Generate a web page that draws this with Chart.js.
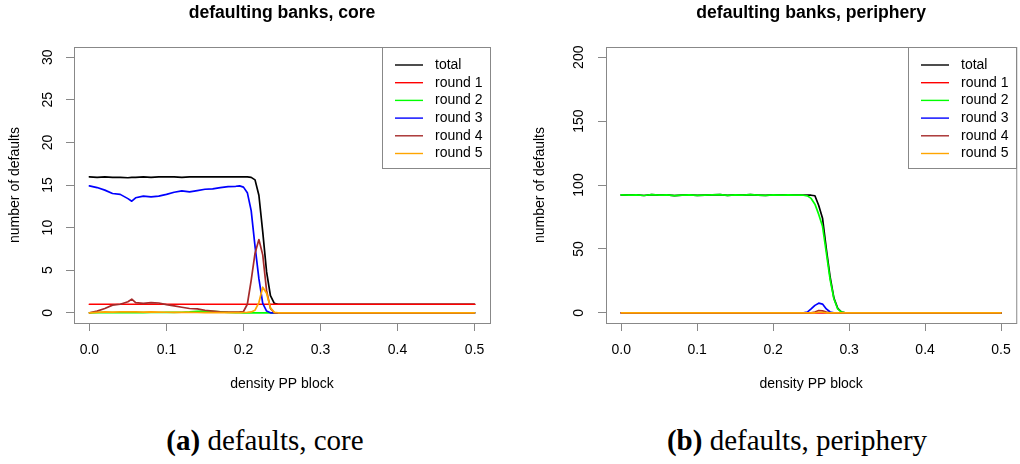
<!DOCTYPE html>
<html>
<head>
<meta charset="utf-8">
<script src="https://cdn.jsdelivr.net/npm/chart.js@4.4.1/dist/chart.umd.min.js"></script>
<style>
  html, body { margin: 0; padding: 0; background: #fff; width: 1020px; height: 464px; overflow: hidden; position: relative; }
  canvas { position: absolute; top: 0; }
  #c-core { left: 0; }
  #c-peri { left: 510px; }
  .cap { position: absolute; top: 424px; width: 500px; text-align: center; color: #000;
         font-family: 'Liberation Serif', 'Times New Roman', serif; font-size: 29px; line-height: 32px; }
</style>
</head>
<body>
<canvas id="c-core" width="510" height="400"></canvas>
<canvas id="c-peri" width="512" height="400"></canvas>
<div class="cap" style="left:15px"><b>(a)</b> defaults, core</div>
<div class="cap" style="left:547px"><b>(b)</b> defaults, periphery</div>

<script>
// ---- data ----
const seriesNames  = ['total', 'round 1', 'round 2', 'round 3', 'round 4', 'round 5']
const seriesColors = ['#000000', '#ff0000', '#00ff00', '#0000ff', '#a52a2a', '#ffa500']

const xTicks     = [0, 0.1, 0.2, 0.3, 0.4, 0.5]
const coreYTicks = [0, 5, 10, 15, 20, 25, 30]
const periYTicks = [0, 50, 100, 150, 200]

// core panel
const coreX = [0, 0.01, 0.02, 0.03, 0.04, 0.05, 0.055, 0.06, 0.07, 0.08, 0.09, 0.1, 0.11, 0.12,
  0.13, 0.14, 0.15, 0.16, 0.17, 0.18, 0.19, 0.195, 0.2, 0.205, 0.21, 0.215, 0.22, 0.225, 0.23,
  0.235, 0.24, 0.245, 0.25, 0.3, 0.4, 0.5]
const coreTotal = [15.95, 15.9, 15.95, 15.9, 15.9, 15.85, 15.9, 15.9, 15.95, 15.9, 15.95, 15.95,
  15.95, 15.9, 15.95, 15.95, 15.95, 15.95, 15.95, 15.95, 15.95, 15.95, 15.95, 15.95, 15.9, 15.6,
  13.8, 9.5, 4.8, 2.0, 1.1, 1.0, 1, 1, 1, 1]
const coreRound1 = [1, 1, 1, 1, 1, 1, 1, 1, 1, 1, 1, 1, 1, 1, 1, 1, 1, 1, 1, 1, 1, 1, 1, 1, 1, 1,
  1, 1, 1, 1, 1, 1, 1, 1, 1, 1]
const coreRound2 = [0, 0.02, 0.03, 0.02, 0.03, 0.02, 0.02, 0.03, 0.02, 0.03, 0.03, 0.04, 0.05,
  0.06, 0.1, 0.18, 0.2, 0.16, 0.1, 0.04, 0.02, 0.01, 0, 0, 0, 0, 0, 0, 0, 0, 0, 0, 0, 0, 0, 0]
const coreRound3 = [14.9, 14.7, 14.4, 14.0, 13.9, 13.4, 13.1, 13.5, 13.7, 13.6, 13.7, 13.9, 14.15,
  14.3, 14.2, 14.35, 14.5, 14.55, 14.7, 14.8, 14.85, 14.9, 14.75, 14.1, 12.0, 7.8, 4.0, 1.1, 0.2,
  0, 0, 0, 0, 0, 0, 0]
const coreRound4 = [0, 0.2, 0.5, 0.9, 1.0, 1.3, 1.6, 1.2, 1.1, 1.2, 1.15, 0.95, 0.8, 0.65, 0.5,
  0.45, 0.3, 0.2, 0.12, 0.08, 0.08, 0.1, 0.15, 1.0, 3.8, 7.0, 8.6, 6.8, 2.6, 0.5, 0, 0, 0, 0, 0, 0]
const coreRound5 = [0, 0.05, 0.1, 0.08, 0.1, 0.12, 0.1, 0.1, 0.08, 0.1, 0.08, 0.06, 0.05, 0.04,
  0.05, 0.03, 0.02, 0.02, 0.01, 0.01, 0.01, 0.02, 0.03, 0.05, 0.1, 0.3, 1.2, 3.0, 2.3, 0.6, 0.05,
  0, 0, 0, 0, 0]

// periphery panel
const periX = [0, 0.01, 0.02, 0.03, 0.04, 0.05, 0.06, 0.07, 0.08, 0.09, 0.1, 0.11, 0.12, 0.13,
  0.14, 0.15, 0.16, 0.17, 0.18, 0.19, 0.2, 0.21, 0.22, 0.23, 0.24, 0.245, 0.25, 0.255, 0.26,
  0.265, 0.27, 0.275, 0.28, 0.285, 0.29, 0.295, 0.3, 0.4, 0.5]
const periTotal = [92.2, 92.0, 92.3, 91.8, 92.4, 92.0, 92.2, 91.7, 92.1, 92.3, 91.9, 92.0, 92.2,
  92.4, 91.9, 92.3, 92.0, 92.4, 92.1, 91.9, 92.3, 92.0, 92.2, 92.1, 92.0, 92.0, 92.0, 91.6, 84,
  74, 50, 28, 11.5, 3.5, 0.6, 0, 0, 0, 0]
const periRound1 = [0, 0, 0, 0, 0, 0, 0, 0, 0, 0, 0, 0, 0, 0, 0, 0, 0, 0, 0, 0, 0, 0, 0, 0, 0, 0,
  0, 0, 0, 0, 0, 0, 0, 0, 0, 0, 0, 0, 0]
const periRound2 = [92.2, 92.0, 92.3, 91.8, 92.4, 92.0, 92.2, 91.7, 92.1, 92.3, 91.9, 92.0, 92.2,
  92.4, 91.9, 92.3, 92.0, 92.4, 92.1, 91.9, 92.3, 92.0, 92.2, 92.1, 92.0, 91.5, 89.5, 85, 77,
  67.7, 47, 26, 11, 3, 0.5, 0, 0, 0, 0]
const periRound3 = [0, 0, 0, 0, 0, 0, 0, 0, 0, 0, 0, 0, 0, 0, 0, 0, 0, 0, 0, 0, 0, 0, 0, 0, 0,
  0.5, 3, 5.8, 7.5, 6.8, 3, 0.6, 0, 0, 0, 0, 0, 0, 0]
const periRound4 = [0, 0, 0, 0, 0, 0, 0, 0, 0, 0, 0, 0, 0, 0, 0, 0, 0, 0, 0, 0, 0, 0, 0, 0, 0,
  0, 0, 0.6, 1.8, 1.5, 0.5, 0, 0, 0, 0, 0, 0, 0, 0]
const periRound5 = [0, 0, 0, 0, 0, 0, 0, 0, 0, 0, 0, 0, 0, 0, 0, 0, 0, 0, 0, 0, 0, 0, 0, 0, 0,
  0, 0, 0, 0.4, 0.4, 0, 0, 0, 0, 0, 0, 0, 0, 0]

Chart.defaults.font.family = "'Liberation Sans', Arial, Helvetica, sans-serif"
Chart.defaults.color = '#000'

// R-style box around the plot region + boxed legend in the top right corner
const rFrame = {
  id: 'rFrame',
  afterDatasetsDraw(chart) {
    const { ctx, chartArea: a } = chart
    ctx.save()
    ctx.strokeStyle = '#888'
    ctx.lineWidth = 1
    ctx.strokeRect(a.left + 0.5, a.top + 0.5, a.right - a.left, a.bottom - a.top)

    const w = 108, h = 121
    const x0 = Math.round(a.right - w), y0 = Math.round(a.top)
    ctx.fillStyle = '#fff'
    ctx.fillRect(x0, y0, w, h)
    ctx.strokeRect(x0 + 0.5, y0 + 0.5, w, h)
    ctx.font = "14px 'Liberation Sans', Arial, sans-serif"
    ctx.textBaseline = 'middle'
    chart.data.datasets.forEach((ds, i) => {
      const y = y0 + 18 + i * 17.7
      ctx.strokeStyle = ds.borderColor
      ctx.lineWidth = 1.4
      ctx.beginPath()
      ctx.moveTo(x0 + 13, y)
      ctx.lineTo(x0 + 41, y)
      ctx.stroke()
      ctx.fillStyle = '#000'
      ctx.fillText(ds.label, x0 + 53, y)
    })
    ctx.restore()
  }
}

function buildChart(id, xs, ys, yTicks, cfg) {
  const datasets = seriesNames.map((name, i) => ({
    label: name,
    data: ys[i],
    borderColor: seriesColors[i],
    borderWidth: 1.7,
    pointRadius: 0,
    fill: false,
    borderCapStyle: 'round',
    borderJoinStyle: 'round',
    order: seriesNames.length - i,   // later rounds drawn on top, like R
  }))

  return new Chart(document.getElementById(id), {
    type: 'line',
    data: { labels: xs, datasets },
    options: {
      responsive: false,
      animation: false,
      layout: { padding: { left: 0, top: 0, right: cfg.padRight, bottom: 0 } },
      plugins: {
        legend: { display: false },
        tooltip: { enabled: false },
        title: {
          display: true, text: cfg.title, fullSize: false, color: '#000',
          font: { size: 17.6, weight: 'bold', lineHeight: 1 },
          padding: { top: 4, bottom: 25.4 },
        },
      },
      scales: {
        x: {
          type: 'linear', min: -0.02, max: 0.52,
          afterBuildTicks: s => { s.ticks = xTicks.map(v => ({ value: v })) },
          afterFit: s => { s.height = 77 },
          grid: { drawOnChartArea: false, drawTicks: true, tickLength: 8, color: '#888' },
          border: { display: false },
          ticks: { font: { size: 14 }, padding: 11, maxRotation: 0, callback: v => v.toFixed(1) },
          title: { display: true, text: 'density PP block', font: { size: 14 }, padding: { top: 0, bottom: 7 } },
        },
        y: {
          min: cfg.yMin, max: cfg.yMax,
          afterBuildTicks: s => { s.ticks = yTicks.map(v => ({ value: v })) },
          afterFit: s => { s.width = cfg.yWidth },
          grid: { drawOnChartArea: false, drawTicks: true, tickLength: 8, color: '#888' },
          border: { display: false },
          ticks: { font: { size: 14 }, padding: cfg.yPad, minRotation: 90, maxRotation: 90, crossAlign: 'center' },
          title: { display: true, text: 'number of defaults', font: { size: 14 }, padding: { top: cfg.yTitlePad, bottom: 0 } },
        },
      },
    },
    plugins: [rFrame],
  })
}

buildChart('c-core', coreX,
  [coreTotal, coreRound1, coreRound2, coreRound3, coreRound4, coreRound5], coreYTicks,
  { title: 'defaulting banks, core', yMin: -1.2, yMax: 31.2, yWidth: 74, yPad: 10, yTitlePad: 7, padRight: 20 })

buildChart('c-peri', periX,
  [periTotal, periRound1, periRound2, periRound3, periRound4, periRound5], periYTicks,
  { title: 'defaulting banks, periphery', yMin: -8, yMax: 208, yWidth: 96, yPad: 7, yTitlePad: 22, padRight: 1 })
</script>
</body>
</html>
